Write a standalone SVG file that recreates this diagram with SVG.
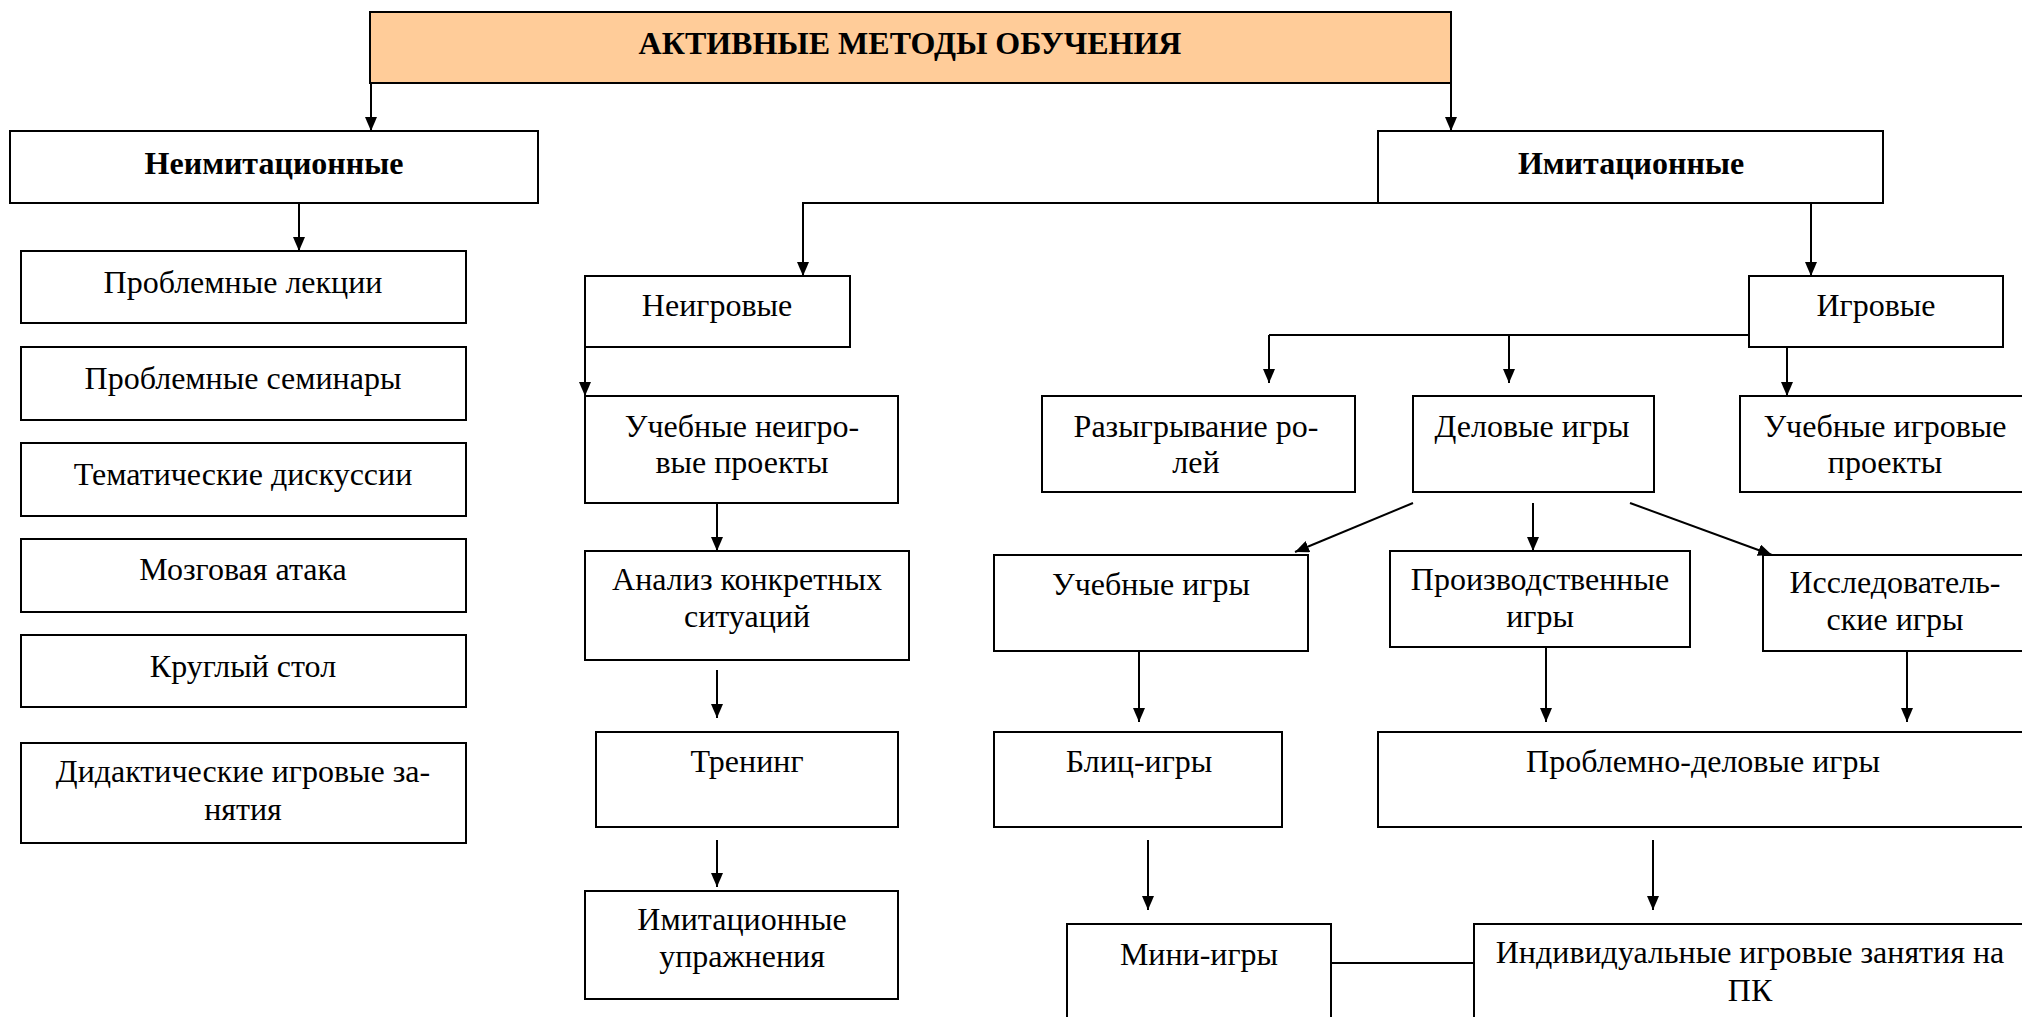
<svg xmlns="http://www.w3.org/2000/svg" width="2022" height="1017" viewBox="0 0 2022 1017">
<style>
  .box { fill: #ffffff; stroke: #000000; stroke-width: 2; }
  .title { fill: #FFCC99; stroke: #000000; stroke-width: 2; }
  text { font-size: 32px; fill: #000000; text-anchor: middle; }
  .b { font-weight: bold; }
  .ln { stroke: #000000; stroke-width: 2; fill: none; }
  .ar { stroke: #000000; stroke-width: 2; fill: none; marker-end: url(#arrow); }
</style>
<defs>
  <marker id="arrow" viewBox="0 0 14 12" refX="14" refY="6" markerWidth="14" markerHeight="12" markerUnits="userSpaceOnUse" orient="auto">
    <path d="M0,0 L14,6 L0,12 z" fill="#000000"/>
  </marker>
</defs>
<rect width="2022" height="1017" fill="#ffffff"/>

<g id="connectors">
  <path class="ar" d="M371,83 V131"/>
  <path class="ar" d="M1451,83 V131"/>
  <path class="ar" d="M299,203 V251"/>
  <path class="ar" d="M1378,203 H803 V276"/>
  <path class="ar" d="M1811,203 V276"/>
  <path class="ar" d="M585,347 V396"/>
  <path class="ar" d="M717,503 V551"/>
  <path class="ar" d="M717,670 V718"/>
  <path class="ar" d="M717,840 V887"/>
  <path class="ln" d="M1749,335 H1269"/>
  <path class="ar" d="M1269,335 V383"/>
  <path class="ar" d="M1509,335 V383"/>
  <path class="ar" d="M1787,347 V396"/>
  <path class="ar" d="M1413,503 L1295,552"/>
  <path class="ar" d="M1533,503 V551"/>
  <path class="ar" d="M1630,503 L1772,555"/>
  <path class="ar" d="M1139,651 V722"/>
  <path class="ar" d="M1546,647 V722"/>
  <path class="ar" d="M1907,651 V722"/>
  <path class="ar" d="M1148,840 V910"/>
  <path class="ar" d="M1653,840 V910"/>
  <path class="ln" d="M1331,963 H1474"/>
</g>

<g font-family="'Liberation Serif', 'Times New Roman', serif">
<g id="n-title"><rect class="title" x="370" y="12" width="1081" height="71"/><text class="b" x="910" y="54">АКТИВНЫЕ МЕТОДЫ ОБУЧЕНИЯ</text></g>

<g id="n-neimit"><rect class="box" x="10" y="131" width="528" height="72"/><text class="b" x="274" y="174">Неимитационные</text></g>
<g id="n-imit"><rect class="box" x="1378" y="131" width="505" height="72"/><text class="b" x="1631" y="174">Имитационные</text></g>

<g id="n-lekcii"><rect class="box" x="21" y="251" width="445" height="72"/><text x="243" y="293">Проблемные лекции</text></g>
<g id="n-seminary"><rect class="box" x="21" y="347" width="445" height="73"/><text x="243" y="389">Проблемные семинары</text></g>
<g id="n-diskussii"><rect class="box" x="21" y="443" width="445" height="73"/><text x="243" y="485">Тематические дискуссии</text></g>
<g id="n-ataka"><rect class="box" x="21" y="539" width="445" height="73"/><text x="243" y="580">Мозговая атака</text></g>
<g id="n-stol"><rect class="box" x="21" y="635" width="445" height="72"/><text x="243" y="677">Круглый стол</text></g>
<g id="n-didakt"><rect class="box" x="21" y="743" width="445" height="100"/><text x="243" y="782">Дидактические игровые за-</text><text x="243" y="820">нятия</text></g>

<g id="n-neigr"><rect class="box" x="585" y="276" width="265" height="71"/><text x="717" y="316">Неигровые</text></g>
<g id="n-uchneigr"><rect class="box" x="585" y="396" width="313" height="107"/><text x="742" y="437">Учебные неигро-</text><text x="742" y="473">вые проекты</text></g>
<g id="n-analiz"><rect class="box" x="585" y="551" width="324" height="109"/><text x="747" y="590">Анализ конкретных</text><text x="747" y="627">ситуаций</text></g>
<g id="n-trening"><rect class="box" x="596" y="732" width="302" height="95"/><text x="747" y="772">Тренинг</text></g>
<g id="n-imupr"><rect class="box" x="585" y="891" width="313" height="108"/><text x="742" y="930">Имитационные</text><text x="742" y="967">упражнения</text></g>

<g id="n-igr"><rect class="box" x="1749" y="276" width="254" height="71"/><text x="1876" y="316">Игровые</text></g>
<g id="n-razygr"><rect class="box" x="1042" y="396" width="313" height="96"/><text x="1196" y="437">Разыгрывание ро-</text><text x="1196" y="473">лей</text></g>
<g id="n-delovye"><rect class="box" x="1413" y="396" width="241" height="96"/><text x="1532" y="437">Деловые игры</text></g>
<g id="n-uchigrproj"><rect class="box" x="1740" y="396" width="290" height="96"/><text x="1885" y="437">Учебные игровые</text><text x="1885" y="473">проекты</text></g>

<g id="n-uchigry"><rect class="box" x="994" y="555" width="314" height="96"/><text x="1151" y="595">Учебные игры</text></g>
<g id="n-proizv"><rect class="box" x="1390" y="551" width="300" height="96"/><text x="1540" y="590">Производственные</text><text x="1540" y="627">игры</text></g>
<g id="n-issled"><rect class="box" x="1763" y="555" width="267" height="96"/><text x="1895" y="593">Исследователь-</text><text x="1895" y="630">ские игры</text></g>

<g id="n-blic"><rect class="box" x="994" y="732" width="288" height="95"/><text x="1139" y="772">Блиц-игры</text></g>
<g id="n-probldel"><rect class="box" x="1378" y="732" width="652" height="95"/><text x="1703" y="772">Проблемно-деловые игры</text></g>

<g id="n-mini"><rect class="box" x="1067" y="924" width="264" height="110"/><text x="1199" y="965">Мини-игры</text></g>
<g id="n-individ"><rect class="box" x="1474" y="924" width="556" height="110"/><text x="1750" y="963">Индивидуальные игровые занятия на</text><text x="1750" y="1001">ПК</text></g>
</g>
</svg>
